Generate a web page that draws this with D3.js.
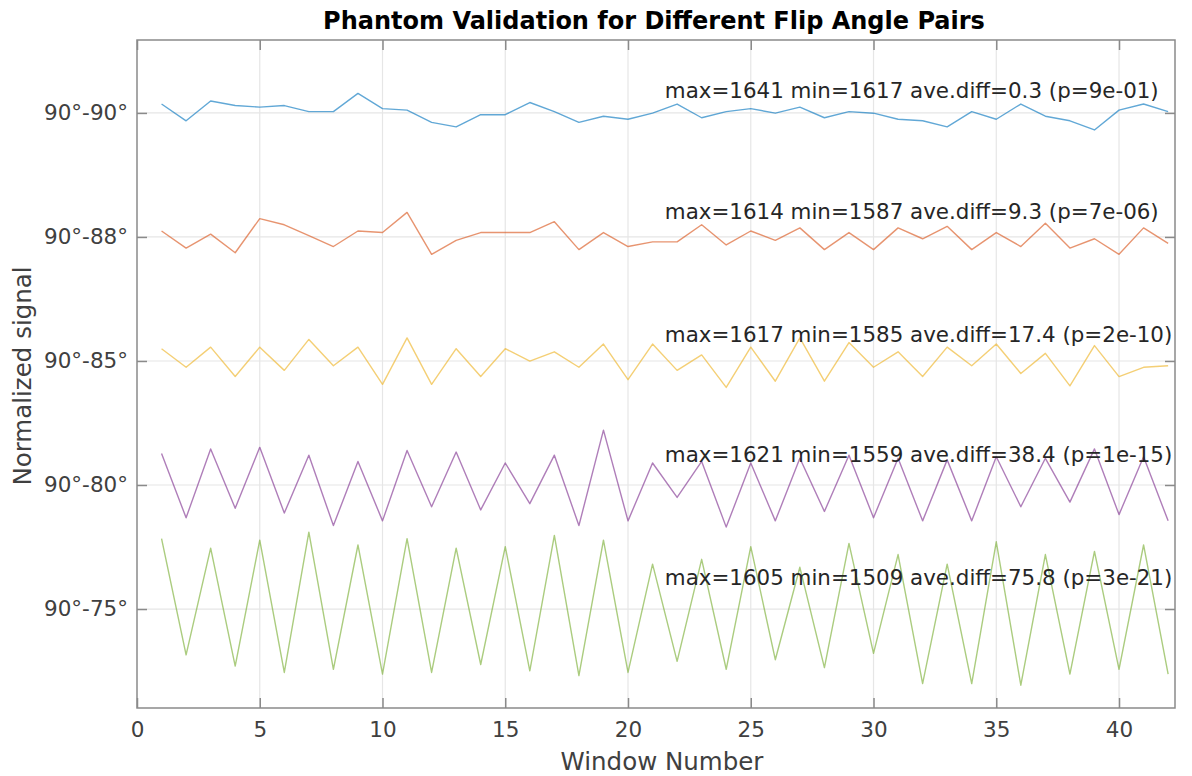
<!DOCTYPE html>
<html>
<head>
<meta charset="utf-8">
<script src="https://cdn.jsdelivr.net/npm/d3@7"></script>
<style>
  body { margin: 0; background: #fff; }
  text { font-family: "DejaVu Sans", sans-serif; }
</style>
</head>
<body>
<svg id="chart" width="1192" height="776"></svg>
<script>
// Window index along the acquisition
const windowNumbers = [1,2,3,4,5,6,7,8,9,10,11,12,13,14,15,16,17,18,19,20,21,
                       22,23,24,25,26,27,28,29,30,31,32,33,34,35,36,37,38,39,40,41,42];

// Raw phantom signal per window for each flip angle pair
const signal90_90 = [1634,1623,1636,1633,1632,1633,1629,1629,1641,1631,1630,1622,1619,1627,1627,1635,1629,1622,1626,1624,1628,
                     1634,1625,1629,1631,1628,1632,1625,1629,1628,1624,1623,1619,1629,1624,1634,1626,1623,1617,1630,1634,1629];
const signal90_88 = [1602,1591,1600,1588,1610,1606,1599,1592,1602,1601,1614,1587,1596,1601,1601,1601,1608,1590,1601,1592,1595,
                     1595,1606,1593,1602,1596,1604,1590,1601,1590,1604,1597,1605,1590,1601,1592,1607,1591,1597,1587,1604,1594];
const signal90_85 = [1610,1598,1611,1592,1611,1596,1616,1599,1611,1587,1617,1587,1610,1592,1610,1602,1608,1598,1613,1590,1613,
                     1596,1606,1585,1611,1589,1617,1589,1614,1598,1608,1592,1611,1599,1613,1594,1607,1586,1612,1592,1598,1599];
const signal90_80 = [1606,1565,1609,1571,1610,1568,1605,1560,1601,1563,1608,1572,1607,1570,1600,1574,1605,1560,1621,1563,1600,
                     1578,1601,1559,1600,1563,1603,1569,1605,1565,1603,1563,1602,1563,1604,1572,1603,1575,1609,1567,1604,1563];
const signal90_75 = [1601,1528,1595,1521,1600,1517,1605,1519,1597,1516,1601,1517,1595,1522,1596,1518,1603,1515,1600,1517,1585,
                     1524,1588,1519,1596,1525,1583,1520,1598,1529,1591,1510,1585,1510,1599,1509,1591,1516,1593,1519,1597,1516];

const pairNames  = ["90°-90°", "90°-88°", "90°-85°", "90°-80°", "90°-75°"];
const pairSeries = [signal90_90, signal90_88, signal90_85, signal90_80, signal90_75];
const pairShift  = [0, 0.05, 0.10, 0.15, 0.20];     // vertical separation of the traces
const aveDiff    = ["0.3", "9.3", "17.4", "38.4", "75.8"];
const pValue     = ["9e-01", "7e-06", "2e-10", "1e-15", "3e-21"];
const xTickValues = [0, 5, 10, 15, 20, 25, 30, 35, 40];

const lineColors = ["#0072BD", "#D95319", "#EDB120", "#7E2F8E", "#77AC30"];
const labelLift  = [0.0093, 0.0105, 0.0109, 0.0125, 0.0129]; // annotation height above each trace

const svg = d3.select("#chart");
const plot = { left: 137, top: 40, right: 1175, bottom: 708 };

const x = d3.scaleLinear().domain([0, 42.28]).range([plot.left, plot.right]);
const y = d3.scaleLinear().domain([0.7601, 1.0294]).range([plot.bottom, plot.top]);

const yTickValues = pairShift.map(s => 1 - s);

// grid
const grid = svg.append("g");
grid.selectAll("line.vx").data(xTickValues.slice(1)).join("line")
  .attr("x1", d => x(d)).attr("x2", d => x(d))
  .attr("y1", plot.top).attr("y2", plot.bottom)
  .attr("stroke", "#e6e6e6").attr("stroke-width", 1.2);
grid.selectAll("line.hy").data(yTickValues).join("line")
  .attr("x1", plot.left).attr("x2", plot.right)
  .attr("y1", d => y(d)).attr("y2", d => y(d))
  .attr("stroke", "#e6e6e6").attr("stroke-width", 1.2);

// traces: each signal normalised by its own mean, then shifted down
const line = d3.line().x(d => x(d[0])).y(d => y(d[1]));
pairSeries.forEach((vals, i) => {
  const m = d3.mean(vals);
  const pts = vals.map((v, j) => [windowNumbers[j], v / m - pairShift[i]]);
  svg.append("path")
    .attr("d", line(pts))
    .attr("fill", "none")
    .attr("stroke", lineColors[i])
    .attr("stroke-opacity", 0.62)
    .attr("stroke-width", 1.4)
    .attr("stroke-linejoin", "round");
});

// annotations
pairSeries.forEach((vals, i) => {
  const txt = `max=${d3.max(vals)} min=${d3.min(vals)} ave.diff=${aveDiff[i]} (p=${pValue[i]})`;
  svg.append("text")
    .attr("x", x(21.5))
    .attr("y", y(1 - pairShift[i] + labelLift[i]))
    .attr("dy", "0.36em")
    .attr("font-size", 21.4)
    .attr("fill", "#262626")
    .text(txt);
});

// axes box
const axisColor = "#8a8a8a";
svg.append("rect")
  .attr("x", plot.left).attr("y", plot.top)
  .attr("width", plot.right - plot.left).attr("height", plot.bottom - plot.top)
  .attr("fill", "none").attr("stroke", axisColor).attr("stroke-width", 1.5);

const tickLen = 10;
const xAxisBottom = d3.axisBottom(x).tickValues(xTickValues).tickSizeInner(-tickLen).tickSizeOuter(0).tickPadding(14);
const gx = svg.append("g").attr("transform", `translate(0,${plot.bottom})`).call(xAxisBottom);
const xAxisTop = d3.axisTop(x).tickValues(xTickValues).tickSizeInner(-tickLen).tickSizeOuter(0).tickFormat("");
const gxt = svg.append("g").attr("transform", `translate(0,${plot.top})`).call(xAxisTop);

const yAxisLeft = d3.axisLeft(y).tickValues(yTickValues).tickSizeInner(-tickLen).tickSizeOuter(0)
  .tickPadding(9).tickFormat((d, i) => pairNames[i]);
const gy = svg.append("g").attr("transform", `translate(${plot.left},0)`).call(yAxisLeft);
const yAxisRight = d3.axisRight(y).tickValues(yTickValues).tickSizeInner(-tickLen).tickSizeOuter(0).tickFormat("");
const gyr = svg.append("g").attr("transform", `translate(${plot.right},0)`).call(yAxisRight);

[gx, gxt, gy, gyr].forEach(g => {
  g.select(".domain").remove();
  g.selectAll(".tick line").attr("stroke", axisColor).attr("stroke-width", 1.5);
  g.selectAll(".tick text").attr("font-size", 21.5).attr("fill", "#404040")
    .attr("font-family", "DejaVu Sans, sans-serif");
});

// titles
svg.append("text")
  .attr("x", 654).attr("y", 29)
  .attr("text-anchor", "middle")
  .attr("font-size", 24).attr("font-weight", "bold").attr("fill", "#000")
  .text("Phantom Validation for Different Flip Angle Pairs");
svg.append("text")
  .attr("x", 662).attr("y", 770)
  .attr("text-anchor", "middle")
  .attr("font-size", 24.5).attr("fill", "#404040")
  .text("Window Number");
svg.append("text")
  .attr("transform", `translate(31,376) rotate(-90)`)
  .attr("text-anchor", "middle")
  .attr("font-size", 24.5).attr("fill", "#404040")
  .text("Normalized signal");
</script>
</body>
</html>
